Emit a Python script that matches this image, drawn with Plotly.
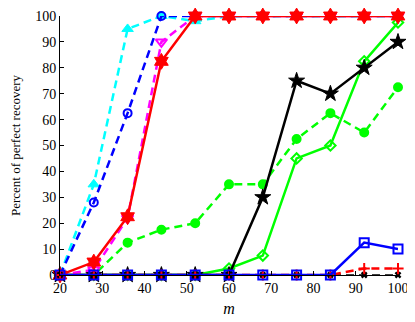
import plotly.graph_objects as go

m = [20, 28, 36, 44, 52, 60, 68, 76, 84, 92, 100]

cyan_tri = [0, 35, 95, 100, 98, 100, 100, 100, 100, 100, 100]
blue_circ = [0, 28, 62.5, 100, 100, 100, 100, 100, 100, 100, 100]
magenta_tri = [0, 2, 22, 90, 100, 100, 100, 100, 100, 100, 100]
red_hex = [0, 5, 22.5, 82.5, 100, 100, 100, 100, 100, 100, 100]
green_dots = [0, 0, 12.5, 17.5, 20, 35, 35, 52.5, 62.5, 55, 72.5]
green_diam = [0, 0, 0, 0, 0, 2.5, 7.5, 45, 50, 82.5, 97.5]
black_star = [0, 0, 0, 0, 0, 0, 30, 75, 70, 80, 90]
black_x = [0, 0, 0, 0, 0, 0, 0, 0, 0, 0, 0]
red_plus = [0, 0, 0, 0, 0, 0, 0, 0, 0, 2.5, 2.5]
blue_sq = [0, 0, 0, 0, 0, 0, 0, 0, 0, 12.5, 10]

DASH = "8px,5px"


def add(fig, y, color, symbol, dash, size, lw=2.5, mlw=2):
    fig.add_trace(go.Scatter(
        x=m, y=y, mode="lines+markers",
        line=dict(color=color, width=lw, dash=dash),
        marker=dict(symbol=symbol, size=size, color=color,
                    line=dict(color=color, width=mlw)),
        cliponaxis=False,
    ))


fig = go.Figure()
add(fig, green_dots, "#00ff00", "circle", DASH, 8)
add(fig, green_diam, "#00ff00", "diamond-open", "solid", 8)
add(fig, black_star, "black", "star", "solid", 12, mlw=1)
add(fig, cyan_tri, "#00ffff", "triangle-up", DASH, 10, mlw=1)
add(fig, blue_circ, "#0000ff", "circle-open", DASH, 8)
add(fig, magenta_tri, "#ff00ff", "triangle-down-open", DASH, 10)
add(fig, red_hex, "#ff0000", "hexagram", "solid", 12, mlw=1)
add(fig, black_x, "black", "x", DASH, 6, lw=1.5, mlw=0)
add(fig, red_plus, "#ff0000", "cross-thin-open", DASH, 8)
add(fig, blue_sq, "#0000ff", "square-open", "solid", 9)

# the page body adds an 8px offset at top/left, so the figure is 8px smaller
font = dict(family="Liberation Serif", size=14, color="black")
fig.update_layout(
    width=407, height=314,
    margin=dict(l=52, r=17, t=8, b=47),
    plot_bgcolor="white", paper_bgcolor="white",
    showlegend=False,
    font=font,
    xaxis=dict(range=[20, 100], tickvals=list(range(20, 101, 10)),
               ticks="inside", ticklen=4, tickcolor="black",
               showline=True, linecolor="black", linewidth=1,
               showgrid=False, zeroline=False, automargin=False,
               title=dict(text="<i>m</i>", font=dict(size=16), standoff=8)),
    yaxis=dict(range=[0, 100], tickvals=list(range(0, 101, 10)),
               ticks="inside", ticklen=4, tickcolor="black",
               showline=True, linecolor="black", linewidth=1,
               showgrid=False, zeroline=False, automargin=False,
               title=dict(text="Percent of perfect recovery", font=dict(size=13), standoff=17)),
)

fig.write_html("out.html")
